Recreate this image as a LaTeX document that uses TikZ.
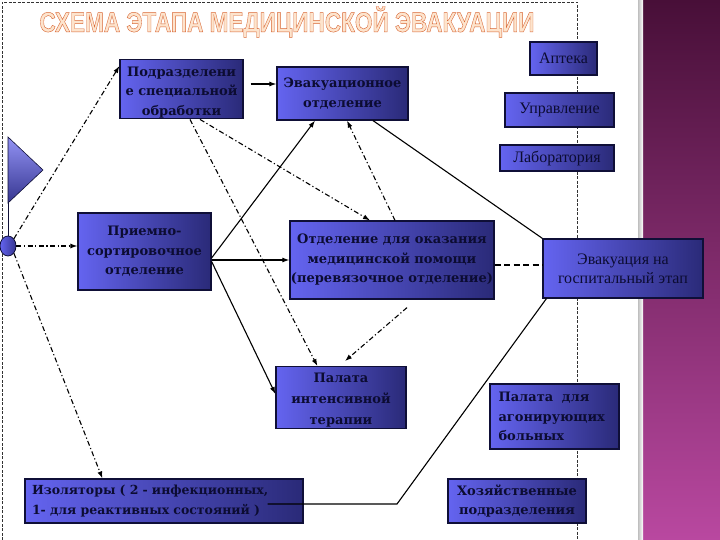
\documentclass[tikz,border=0pt]{standalone}
\usepackage{fontspec}
\setmainfont{Liberation Serif}
\newfontfamily\boxfont{DejaVu Serif}
\newfontfamily\titlefont[FakeBold=1.6]{Liberation Sans}
\usetikzlibrary{arrows.meta,shapes.geometric,calc}
\definecolor{boxL}{RGB}{100,100,240}
\definecolor{boxR}{RGB}{42,42,120}
\definecolor{boxline}{RGB}{15,15,55}
\definecolor{boxtext}{RGB}{12,12,50}
\definecolor{magT}{RGB}{72,15,56}
\definecolor{magB}{RGB}{185,72,160}
\definecolor{titlefill}{RGB}{253,228,205}
\begin{document}
\begin{tikzpicture}[x=1pt,y=-1pt,
  box/.style={draw=boxline,line width=1.2pt,left color=boxL,right color=boxR,
    text=boxtext,align=center,inner sep=1pt},
  bfont/.style={font=\boxfont\bfseries\fontsize{13}{19.5}\selectfont},
  rfont/.style={font=\fontsize{16}{19}\selectfont},
  dd/.style={line width=1.1pt,dash pattern=on 5pt off 2.5pt on 1.2pt off 2.5pt},
  con/.style={line width=1.1pt},
  tip/.style={-{Latex[length=7pt,width=5pt]}},
  framestyle/.style={line width=0.8pt,dash pattern=on 3pt off 1.5pt,black!80}
]
\fill[white] (0,0) rectangle (720,540);
\useasboundingbox (0,0) rectangle (720,540);
% right decorative band
\shade[top color=magT,bottom color=magB] (643,0) rectangle (720,540);
\shade[left color=black!25,right color=white] (638,0) rectangle (643,540);
% dashed frame
\draw[framestyle] (2,540) -- (2,2) -- (577,2) -- (577,540);
% title
\node[inner sep=0] (title) at (287,22)
  {\resizebox{495pt}{\height}{\titlefont\bfseries\fontsize{28}{28}\selectfont
   \color{titlefill}\special{pdf:code 0.85 0.40 0.20 RG}СХЕМА ЭТАПА МЕДИЦИНСКОЙ ЭВАКУАЦИИ}};
% boxes
\node[box,bfont,minimum width=123pt,minimum height=58pt] (n1) at (181.5,89)
  {\rule{0pt}{16pt}Подразделени\\е специальной\\обработки};
\node[box,bfont,minimum width=131pt,minimum height=53pt] (n2) at (342.5,93.5)
  {Эвакуационное\\отделение};
\node[box,rfont,minimum width=67pt,minimum height=33pt] (n3) at (563.5,58.5) {Аптека};
\node[box,rfont,minimum width=109pt,minimum height=34pt] (n4) at (559.5,110) {Управление};
\node[box,rfont,minimum width=114pt,minimum height=26pt] (n5) at (557,158) {Лаборатория};
\node[box,bfont,minimum width=133pt,minimum height=77pt] (n6) at (144.5,251.5)
  {Приемно-\\сортировочное\\отделение};
\node[box,bfont,minimum width=200pt,minimum height=78pt] (n7) at (392,260)
  {Отделение для оказания\\медицинской помощи\\(перевязочное отделение)};
\node[box,rfont,minimum width=160pt,minimum height=59pt] (n8) at (623,268.5)
  {Эвакуация на\\госпитальный этап};
\node[box,font=\boxfont\bfseries\fontsize{13}{21}\selectfont,minimum width=130pt,minimum height=61pt] (n9) at (341,397.5)
  {\rule{0pt}{15pt}Палата\\интенсивной\\терапии};
\node[box,bfont,minimum width=129pt,minimum height=65pt,text width=112pt,align=left] (n10) at (554.5,416.5)
  {Палата\ \ для\\агонирующих\\больных};
\node[box,font=\boxfont\bfseries\fontsize{12.5}{19.5}\selectfont,minimum width=278pt,minimum height=44pt,text width=264pt,align=left] (n11) at (164,501)
  {Изоляторы ( 2 - инфекционных,\\1- для реактивных состояний )};
\node[box,bfont,minimum width=138pt,minimum height=44pt] (n12) at (517,501)
  {Хозяйственные\\подразделения};
% flag
\node[ellipse,draw=boxline,line width=0.8pt,left color=boxL,right color=boxR!80!boxL,
  minimum width=16pt,minimum height=20pt,inner sep=0] (dot) at (8,246) {};
\coordinate (poletop) at (8,137);
\draw[line width=1pt,boxline] (poletop) -- (dot.north);
\draw[boxline,line width=0.6pt,top color=boxL!70!white,bottom color=boxR!80!boxL]
  (poletop) -- (43,170) -- (8,203) -- cycle;
% connectors
\draw[dd,tip] (dot.east) -- (n6.west|-dot.east);
\draw[dd,tip] (dot.north east) -- ([yshift=23pt]n1.west);
\draw[dd,tip] (dot.south east) -- ([xshift=78pt]n11.north west);
\draw[con,tip] ([xshift=7pt,yshift=5pt]n1.east) -- ([yshift=9.5pt]n2.west);
\draw[dd,tip] ([xshift=8.5pt]n1.south) -- ([xshift=42pt]n9.north west);
\draw[dd,tip] ([xshift=18.5pt]n1.south) -- ([xshift=-22pt]n7.north);
\draw[con,tip] ([yshift=-6.5pt]n6.east) -- ([xshift=-27.5pt]n2.south);
\draw[con,tip] (n6.east|-n7.west) -- (n7.west);
\draw[con,tip] ([yshift=-10pt]n6.east) -- ([yshift=3.5pt]n9.west);
\draw[dd,tip] ([xshift=3pt]n7.north) -- ([xshift=4.5pt]n2.south);
\draw[con] ([xshift=30.5pt]n2.south) -- (n8.north west);
\coordinate (dashA) at ([yshift=-5pt]n7.east);
\draw[line width=2pt,dash pattern=on 6pt off 3.5pt] (dashA) -- (n8.west|-dashA);
\draw[dd,tip] ([shift={(15pt,-8pt)}]n7.south) -- ([shift={(4pt,5pt)}]n9.north);
\coordinate (bend) at (397,504);
\draw[con] ([xshift=-36pt,yshift=-3pt]n11.east) -- (bend) -- ([xshift=4pt]n8.south west);
\end{tikzpicture}
\end{document}
